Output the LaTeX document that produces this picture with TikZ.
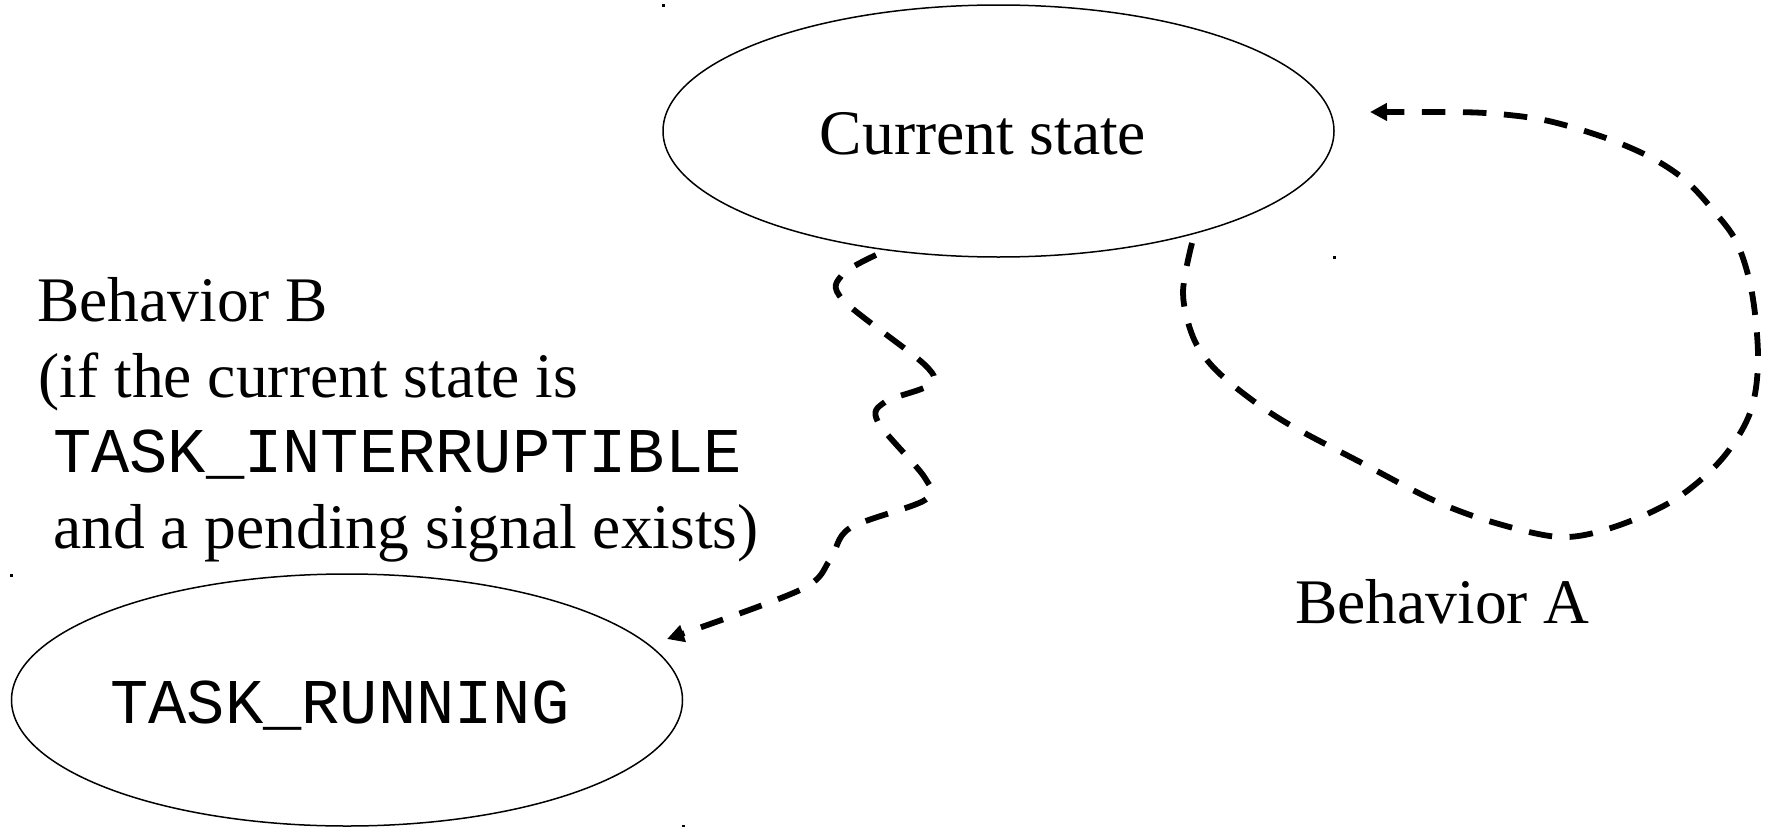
\documentclass[tikz,border=0pt]{standalone}
\usepackage{fontspec}
\setmainfont{Liberation Serif}
\newfontfamily\monof{Liberation Mono}
\usetikzlibrary{shapes.geometric,arrows.meta}
\begin{document}
\begin{tikzpicture}[x=1pt,y=-1pt,
  state/.style={ellipse, draw, line width=1.5pt, minimum width=671pt, minimum height=252pt, inner sep=0pt},
  serif/.style={font=\fontsize{63.5}{76}\selectfont},
  mono/.style={font=\monof\fontsize{63.75}{76}\selectfont},
  lbl/.style={inner sep=0pt, anchor=base west},
  flow/.style={line width=5.8pt, dash pattern=on 23.5pt off 17.5pt, -{Triangle[length=17pt,width=17pt]}},
  dot/.style={fill=black},
]
\useasboundingbox (0,0) rectangle (1767,827);

% states
\node[state, serif, text height=46pt, text depth=0pt] (cs) at (998.5,131) {\hspace*{-31pt}Current state};
\node[state, mono, text height=46pt, text depth=0pt] (tr) at (347,700) {\hspace*{-14pt}TASK\_RUNNING};

% corner marks
\fill[dot] (662,4) rectangle (664.5,6.5);
\fill[dot] (1333,256) rectangle (1335.5,258.5);
\fill[dot] (10,574) rectangle (12.5,576.5);
\fill[dot] (682,824.5) rectangle (684.5,827);

% labels
\node[lbl, serif] (b1) at (37,321) {Behavior B};
\node[lbl, serif] (b2) at (38.5,397) {(if the current state is};
\node[lbl, mono]  (b3) at (53,472) {TASK\_INTERRUPTIBLE};
\node[lbl, serif] (b4) at (53,548) {and a pending signal exists)};
\node[lbl, serif] (ba) at (1295,623) {Behavior A};

% Behavior B connector
\coordinate (bS) at (876,255);
\coordinate (bE) at (667,639);
\draw[flow] plot[smooth, tension=0.55] coordinates {(bS) (842,275) (843,300) (925,365) (929,385) (885,402) (878,422) (925,478) (925,500) (850,528) (830,560) (800,590) (bE)};

% Behavior A connector
\coordinate (aS) at (1192,243);
\coordinate (aE) at (1370,112);
\draw[flow] plot[smooth, tension=0.55] coordinates {(aS) (1183,293) (1193,337) (1213,367) (1248,397) (1290,425) (1360,462) (1433,500) (1492,522) (1560,537) (1614,527) (1674,500) (1721,460) (1750,413) (1758,360) (1752,293) (1737,243) (1713,210) (1685,180) (1650,157) (1603,137) (1544,120) (1485,113) (1426,112) (aE)};
\end{tikzpicture}
\end{document}
